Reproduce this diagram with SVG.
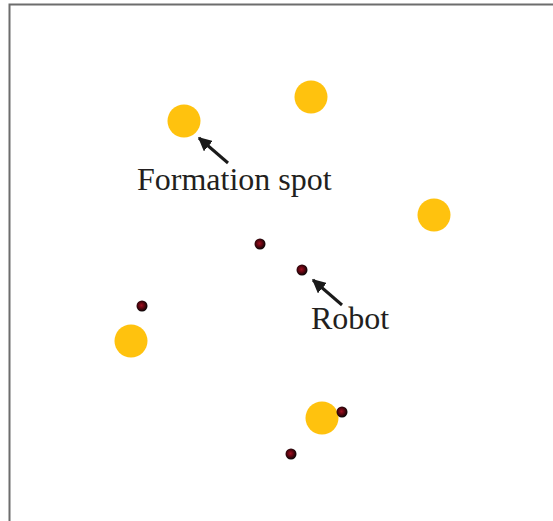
<svg xmlns="http://www.w3.org/2000/svg" width="553" height="521" viewBox="0 0 553 521">
<defs>
<radialGradient id="rb" cx="0.45" cy="0.45" r="0.55">
<stop offset="0" stop-color="#a01020"/>
<stop offset="0.5" stop-color="#5a0510"/>
<stop offset="1" stop-color="#050505"/>
</radialGradient>
<marker id="ah" viewBox="0 0 10 10" refX="9" refY="5" markerWidth="4.6" markerHeight="4.6" markerUnits="strokeWidth" orient="auto">
<path d="M0,0 L10,5 L0,10 Z" fill="#1a1a1a"/>
</marker>
<style>
.spot{fill:#FFC20E}
.robot{fill:url(#rb)}
.lbl{font-family:"Liberation Serif","Times New Roman",serif;font-size:32px;fill:#231f20}
.arr{stroke:#1a1a1a;stroke-width:3;fill:none;marker-end:url(#ah)}
</style>
</defs>
<rect x="0" y="0" width="553" height="521" fill="#fff"/>
<path d="M9.5,521 V4.5 H553" fill="none" stroke="#6d6d6d" stroke-width="2"/>
<g id="spot1"><circle class="spot" cx="184" cy="121" r="16.5"/></g>
<g id="spot2"><circle class="spot" cx="311" cy="97" r="16.5"/></g>
<g id="spot3"><circle class="spot" cx="434" cy="215" r="16.5"/></g>
<g id="spot4"><circle class="spot" cx="131" cy="341" r="16.5"/></g>
<g id="spot5"><circle class="spot" cx="322" cy="418" r="16.5"/></g>
<g id="robot1"><circle class="robot" cx="260" cy="244" r="5.5"/></g>
<g id="robot2"><circle class="robot" cx="302" cy="270" r="5.5"/></g>
<g id="robot3"><circle class="robot" cx="142" cy="306" r="5.5"/></g>
<g id="robot4"><circle class="robot" cx="342" cy="412" r="5.5"/></g>
<g id="robot5"><circle class="robot" cx="291" cy="454" r="5.5"/></g>
<g id="connectors">
<line class="arr" x1="228" y1="163" x2="199" y2="138"/>
<line class="arr" x1="342" y1="305" x2="313" y2="280"/>
</g>
<g id="labels">
<text class="lbl" x="137" y="190">Formation spot</text>
<text class="lbl" x="311" y="329">Robot</text>
</g>
</svg>
